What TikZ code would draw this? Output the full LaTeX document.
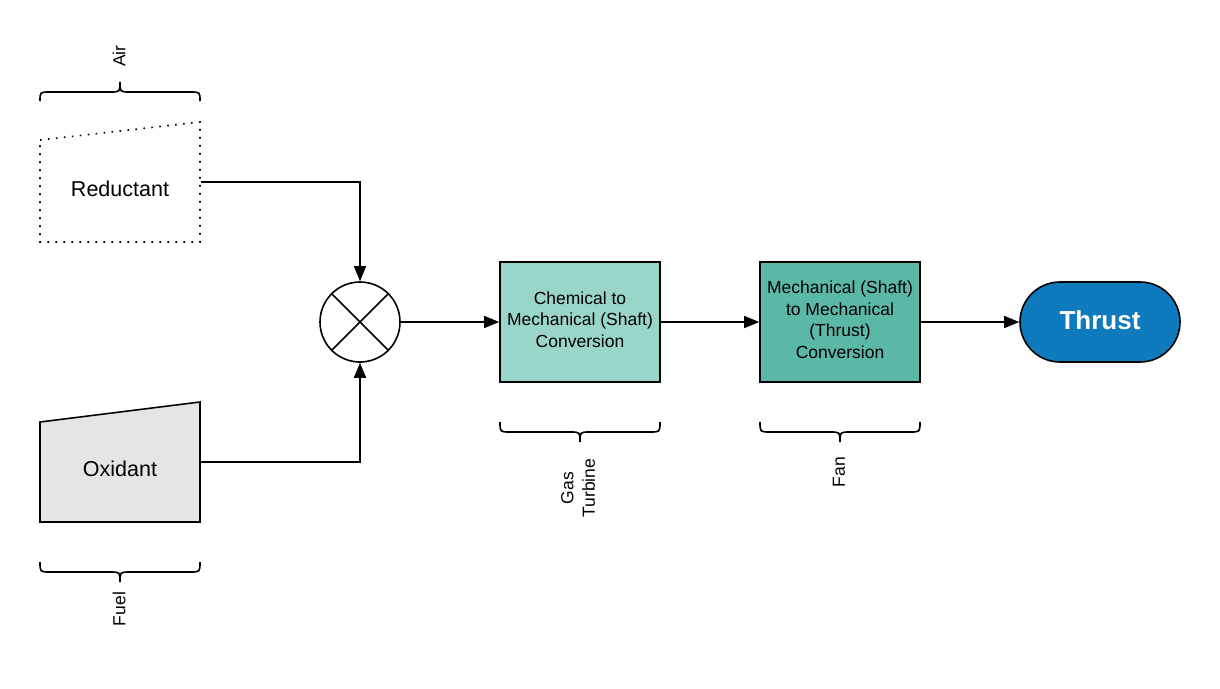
\documentclass[tikz,border=0pt]{standalone}
\usepackage{fontspec}
\setmainfont{Liberation Sans}
\usetikzlibrary{arrows.meta,shapes.misc}
\definecolor{boxA}{HTML}{9AD5CA}
\definecolor{boxB}{HTML}{5CB8A6}
\definecolor{thr}{HTML}{0F7BBE}
\definecolor{oxg}{HTML}{E5E5E5}
\begin{document}
\begin{tikzpicture}[x=1pt,y=-1pt,line width=1.6pt,
  conn/.style={-{Triangle[length=15pt,width=12pt]},line width=1.6pt},
  lbl/.style={font=\fontsize{17.5}{21.5}\selectfont,align=center,inner sep=0pt},
  big/.style={font=\fontsize{21.5}{25}\selectfont,inner sep=0pt},
  box/.style={draw,line width=1.6pt,minimum width=160pt,minimum height=120pt,inner sep=0pt},
  ghost/.style={minimum width=160pt,minimum height=120pt,inner sep=0pt},
  bracepath/.style={line width=1.6pt},
  dotline/.style={line width=1.6pt,dash pattern=on 1.6pt off 6.4pt}]
\useasboundingbox (0,0) rectangle (1220,688);
% Reductant (dotted trapezoid)
\node[ghost] (red) at (120,182) {};
\draw[dotline] (40,140) -- (200,122) -- (200,242) -- (40,242) -- cycle;
\node[big] (redt) at (120,189) {Reductant};
% Oxidant
\node[ghost] (ox) at (120,462) {};
\draw[fill=oxg,line width=1.6pt] (40,422) -- (200,402) -- (200,522) -- (40,522) -- cycle;
\node[big] (oxt) at (120,469) {Oxidant};
% Mixer
\node[draw,circle,minimum size=80pt,inner sep=0pt,line width=1.6pt] (mix) at (360,322) {};
\draw (mix.north east) -- (mix.south west);
\draw (mix.north west) -- (mix.south east);
% Boxes
\node[box,fill=boxA] (gt) at (580,322) {};
\node[lbl] (gtt) at (580,319.5) {Chemical to\\Mechanical (Shaft)\\Conversion};
\node[box,fill=boxB] (fan) at (840,322) {};
\node[lbl] (fant) at (840,319.5) {Mechanical (Shaft)\\to Mechanical\\(Thrust)\\Conversion};
\node[draw,fill=thr,rounded rectangle,minimum width=160pt,minimum height=80pt,inner sep=0pt,line width=1.6pt,
  text=white,font=\fontsize{26}{30}\selectfont\bfseries] (th) at (1100,322) {\raisebox{4pt}{Thrust}};
% Connectors
\draw[conn] (red.east) -| (mix.north);
\draw[conn] (ox.east) -| (mix.south);
\draw[conn] (mix.east) -- (gt.west);
\draw[conn] (gt.east) -- (fan.west);
\draw[conn] (fan.east) -- (th.west);
% Braces
\draw[bracepath] (40,101) .. controls (40,92) .. (50,92) -- (110,92) .. controls (120,92) .. (120,82)
  .. controls (120,92) .. (130,92) -- (190,92) .. controls (200,92) .. (200,101);
\draw[bracepath] (40,562) .. controls (40,572) .. (50,572) -- (110,572) .. controls (120,572) .. (120,582)
  .. controls (120,572) .. (130,572) -- (190,572) .. controls (200,572) .. (200,562);
\draw[bracepath] (500,422) .. controls (500,432) .. (510,432) -- (570,432) .. controls (580,432) .. (580,442)
  .. controls (580,432) .. (590,432) -- (650,432) .. controls (660,432) .. (660,422);
\draw[bracepath] (760,422) .. controls (760,432) .. (770,432) -- (830,432) .. controls (840,432) .. (840,442)
  .. controls (840,432) .. (850,432) -- (910,432) .. controls (920,432) .. (920,422);
% Brace labels
\node[lbl,rotate=90] (airl) at (119,56) {Air};
\node[lbl,rotate=90] (fuell) at (119,609) {Fuel};
\node[lbl,rotate=90] (gtl) at (578,488) {Gas\\Turbine};
\node[lbl,rotate=90] (fanl) at (839,472) {Fan};
\end{tikzpicture}
\end{document}
